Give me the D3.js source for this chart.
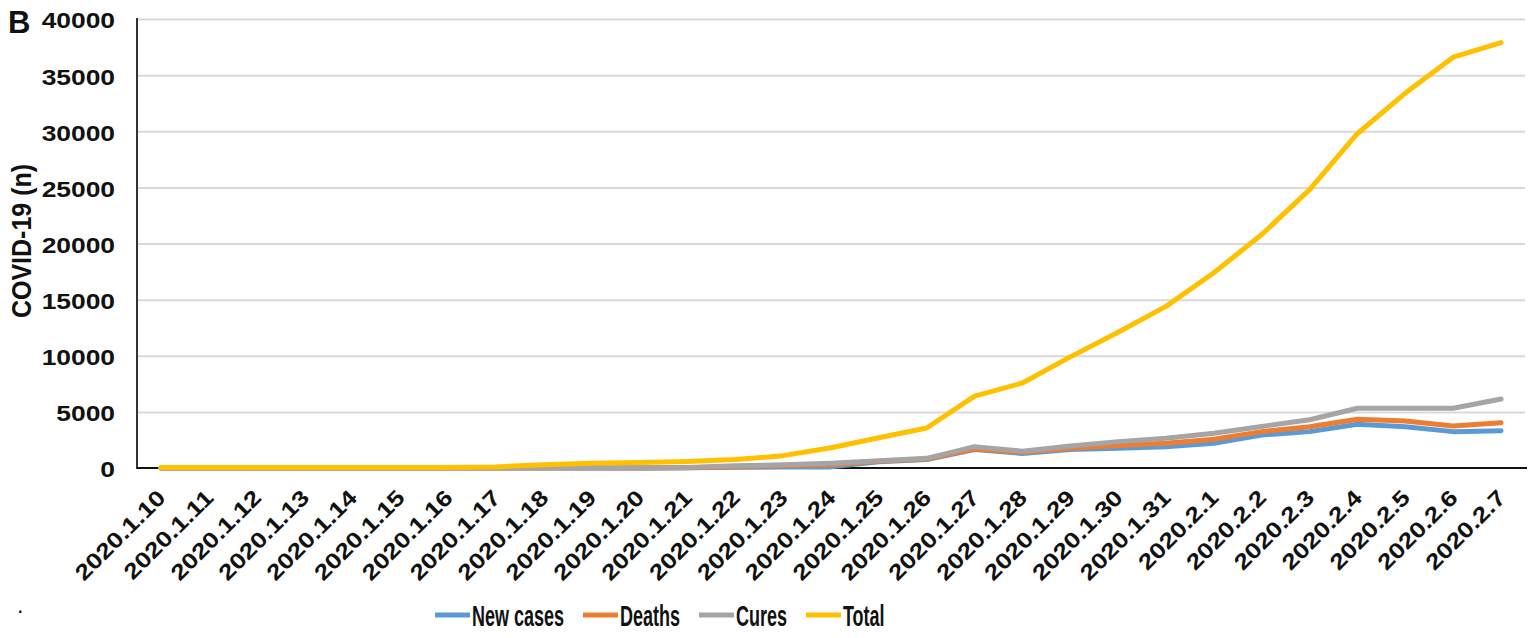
<!DOCTYPE html>
<html><head><meta charset="utf-8">
<script src="https://cdn.jsdelivr.net/npm/d3@7"></script>
<style>body{margin:0;background:#fff}svg{display:block}</style>
</head><body><svg id="c" width="1536" height="638"></svg>
<script>
const dates = ["2020.1.10","2020.1.11","2020.1.12","2020.1.13","2020.1.14","2020.1.15","2020.1.16","2020.1.17","2020.1.18","2020.1.19","2020.1.20","2020.1.21","2020.1.22","2020.1.23","2020.1.24","2020.1.25","2020.1.26","2020.1.27","2020.1.28","2020.1.29","2020.1.30","2020.1.31","2020.2.1","2020.2.2","2020.2.3","2020.2.4","2020.2.5","2020.2.6","2020.2.7"];
const newCases = [0,0,0,0,0,0,0,0,0,0,0,20,60,80,100,550,760,1650,1300,1650,1750,1900,2200,2940,3240,3890,3680,3240,3320];
const deaths   = [0,0,0,0,0,0,0,0,0,0,0,30,120,200,300,600,800,1700,1400,1750,2000,2200,2560,3240,3680,4340,4190,3740,4040];
const cures    = [0,0,0,0,0,0,0,0,0,0,0,50,200,280,420,650,860,1900,1500,1950,2350,2650,3100,3700,4300,5320,5320,5320,6150];
const total    = [41,41,41,41,41,41,41,100,300,430,500,580,750,1100,1800,2700,3560,6410,7570,9900,12100,14400,17400,20800,24800,29800,33400,36600,37900];
const seriesNames = ["New cases","Deaths","Cures","Total"];
const seriesColors = ["#5B9BD5","#ED7D31","#A5A5A5","#FFC000"];
const yTicks = [0,5000,10000,15000,20000,25000,30000,35000,40000];
const yTitle = "COVID-19 (n)";
const panelLabel = "B";

const svg = d3.select("#c");
const L = 137, R = 1525, T = 19, B = 468;
const FONT = "'Liberation Sans', Arial, sans-serif";
const x = d3.scaleBand().domain(dates).range([L, R]);
const xc = d => x(d) + x.bandwidth() / 2;
const y = d3.scaleLinear().domain([0, 40000]).range([B, T]);

// gridlines
const grid = svg.append("g").attr("transform", `translate(${L},0)`)
  .call(d3.axisLeft(y).tickValues(yTicks.filter(v => v > 0)).tickSize(-(R - L)).tickFormat(""));
grid.select(".domain").remove();
grid.selectAll("line").attr("stroke", "#d9d9d9").attr("stroke-width", 2);

// y labels
const ya = svg.append("g").attr("transform", `translate(${L},0)`)
  .call(d3.axisLeft(y).tickValues(yTicks).tickFormat(d3.format("d")).tickSize(0).tickPadding(0));
ya.select(".domain").remove();
ya.selectAll("text")
  .attr("x", 0).attr("dy", "0.36em")
  .attr("transform", "translate(-22,1) scale(1.2,1)")
  .attr("font-family", FONT)
  .attr("font-weight", "bold").attr("font-size", 22).attr("fill", "#111");

// x labels
const xa = svg.append("g").attr("transform", `translate(0,${B})`)
  .call(d3.axisBottom(x).tickSize(0));
xa.select(".domain").remove();
xa.selectAll("text")
  .attr("x", 0).attr("y", 0).attr("dy", 0)
  .attr("text-anchor", "end")
  .attr("transform", "translate(6,31) rotate(-45) scale(1.2,1)")
  .attr("font-family", FONT)
  .attr("font-weight", "bold").attr("font-size", 22).attr("fill", "#111");

// axis lines
svg.append("line").attr("x1", L).attr("x2", L).attr("y1", T - 1).attr("y2", B + 1)
  .attr("stroke", "#333").attr("stroke-width", 2);
svg.append("line").attr("x1", L).attr("x2", R + 2).attr("y1", B).attr("y2", B)
  .attr("stroke", "#111").attr("stroke-width", 2.2);

// lines
const allSeries = [newCases, deaths, cures, total];
const line = d3.line().x((d, i) => xc(dates[i])).y(d => y(d));
allSeries.forEach((s, k) => {
  svg.append("path").datum(s).attr("d", line)
    .attr("fill", "none").attr("stroke", seriesColors[k]).attr("stroke-width", 5)
    .attr("stroke-linejoin", "round").attr("stroke-linecap", "round");
});

// y title
svg.append("text").attr("transform", "translate(31,241) rotate(-90) scale(1,1.12)")
  .attr("text-anchor", "middle")
  .attr("font-family", FONT)
  .attr("font-weight", "bold").attr("font-size", 25).attr("fill", "#111").text(yTitle);

// panel label
svg.append("text").attr("x", 8).attr("y", 33)
  .attr("font-family", FONT)
  .attr("font-weight", "bold").attr("font-size", 31).attr("fill", "#111").text(panelLabel);
svg.append("text").attr("x", 18).attr("y", 613)
  .attr("font-family", FONT)
  .attr("font-weight", "bold").attr("font-size", 16).attr("fill", "#111").text(".");

// legend
let lx = 435;
const ly = 615;
seriesNames.forEach((n, k) => {
  svg.append("line").attr("x1", lx).attr("x2", lx + 35).attr("y1", ly).attr("y2", ly)
    .attr("stroke", seriesColors[k]).attr("stroke-width", 5);
  const t = svg.append("text").attr("transform", `translate(${lx + 37},${ly + 11}) scale(0.6,1)`)
    .attr("font-family", FONT).attr("font-weight", "bold")
    .attr("font-size", 30).attr("fill", "#111").text(n);
  const w = t.node().getComputedTextLength() * 0.6;
  lx += 37 + w + 19;
});
</script></body></html>
